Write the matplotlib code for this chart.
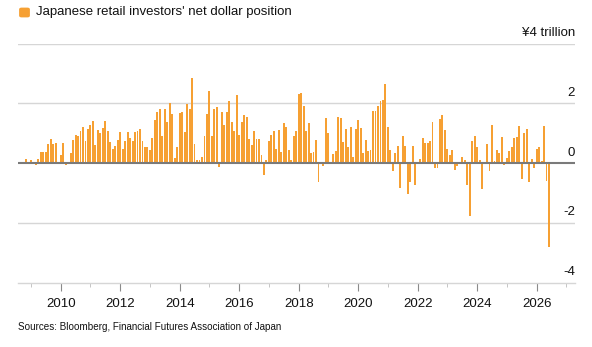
import matplotlib
matplotlib.use("Agg")
import matplotlib.pyplot as plt
import matplotlib.transforms as mtransforms
from matplotlib.patches import FancyBboxPatch
import pandas as pd

# monthly net dollar position, trillion yen (Nov 2008 - Jun 2026)
months = pd.date_range("2008-11-01", periods=212, freq="MS")
values = [
    0.13, 0, 0.1, 0, -0.06, 0.12, 0.38, 0.36, 0.38, 0.63, 0.79, 0.65,
    0.67, 0.05, 0.28, 0.66, -0.07, 0.05, 0.34, 0.76, 0.94, 0.9, 1.08, 1.21,
    0.75, 1.13, 1.26, 1.4, 0.6, 1.11, 1.02, 1.17, 1.4, 1.06, 0.7, 0.47,
    0.58, 0.76, 1.04, 0.46, 0.73, 1.04, 0.84, 0.75, 1.04, 1.08, 1.13, 0.73,
    0.52, 0.52, 0.45, 0.85, 1.43, 1.72, 1.8, 0.9, 1.82, 1.38, 2.0, 1.63,
    0.17, 0.54, 1.66, 1.7, 1.03, 1.98, 1.81, 2.84, 0.63, 0.1, 0.1, 0.2,
    0.9, 1.64, 2.4, 0.9, 1.81, 1.87, -0.15, 1.71, 1.27, 1.71, 2.06, 1.37,
    1.08, 2.27, 0.93, 1.37, 1.61, 1.55, 0.8, 0.61, 1.08, 0.79, 0.81, 0.27,
    -0.4, 0.11, 0.74, 0.93, 1.07, 0.46, 1.09, 0.37, 1.34, 1.22, 0.45, 0.11,
    0.91, 1.07, 2.3, 2.34, 1.91, 1.06, 1.33, 0.34, 0.38, 0.76, -0.64, 0,
    -0.11, 1.52, 1.02, 0.02, 0.31, 0.4, 1.55, 1.5, 0.7, 1.13, 0.52, 1.21,
    0.19, 1.13, 1.44, 1.17, 0.33, 0.76, 0.4, 0.45, 1.74, 1.74, 1.9, 2.08,
    2.11, 2.66, 1.19, 0.42, -0.28, 0.33, 0.57, -0.85, 0.9, 0.57, -1.03, -0.62,
    0.57, -0.73, 0.02, 0.12, 0.84, 0.66, 0.66, 0.72, 1.38, -0.17, -0.17, 1.46,
    1.6, 1.12, 0.46, 0.26, 0.45, -0.22, -0.11, 0, 0.2, 0.11, -0.73, -1.76,
    0.73, 0.9, 0.53, 0.09, -0.88, 0, 0.65, -0.28, 1.26, 0.06, 0.45, 0.34,
    0.88, -0.08, 0.16, 0.39, 0.54, 0.83, 0.88, 1.24, -0.55, 1.01, 1.13, -0.64,
    0.15, -0.17, 0.46, 0.52, 0.06, 1.24, -0.61, -2.8,
]
y_ticks = [-4, -2, 0, 2, 4]
y_labels = ["-4", "-2", "0", "2", "¥4 trillion"]
x_major = list(range(2010, 2027, 2))
x_minor = list(range(2009, 2028, 2))

plt.rcParams["font.family"] = ["Liberation Sans", "DejaVu Sans"]
orange = "#f6a033"

# decimal years for the bar positions
x = [d.year + (d.month - 1) / 12 for d in months]

fig = plt.figure(figsize=(5.92, 3.47), dpi=100)
ax = fig.add_axes([18 / 592, 1 - 282.5 / 347, 557 / 592, 239 / 347])

ax.bar(x, values, width=0.064, color=orange, zorder=2)

ax.set_xlim(2008.565, 2027.29)
ax.set_ylim(-4, 4)

# gridlines and zero line
for v in [-2, 2, 4]:
    ax.axhline(v, color="#d6d6d6", lw=1, zorder=1)
ax.axhline(0, color="#7a7a7a", lw=1.5, zorder=3)

for s in ["top", "left", "right"]:
    ax.spines[s].set_visible(False)
ax.spines["bottom"].set_color("#d6d6d6")
ax.spines["bottom"].set_linewidth(1)

ax.set_yticks([])
trans = mtransforms.blended_transform_factory(ax.transAxes, ax.transData)
for v, lab in zip(y_ticks, y_labels):
    ax.text(1.0, v + 0.15, lab, transform=trans, ha="right", va="bottom",
            fontsize=9.5, color="#111111")

ax.set_xticks(x_major)
ax.set_xticklabels([str(t) for t in x_major], fontsize=9.5, color="#111111")
ax.set_xticks(x_minor, minor=True)
ax.tick_params(axis="x", which="major", length=6, color="#8a8a8a", pad=5)
ax.tick_params(axis="x", which="minor", length=3, color="#bbbbbb")

# title with legend square
sq = FancyBboxPatch((21 / 592, 1 - 16 / 347), 7 / 592, 7 / 347,
                    boxstyle="round,pad=0.002,rounding_size=0.003",
                    transform=fig.transFigure, color=orange, figure=fig)
fig.patches.append(sq)
fig.text(36 / 592, 1 - 12 / 347, "Japanese retail investors' net dollar position",
         fontsize=9.5, va="center", ha="left", color="#111111")

fig.text(18 / 592, 1 - 327 / 347, "Sources: Bloomberg, Financial Futures Association of Japan",
         fontsize=7.1, va="center", ha="left", color="#111111")

fig.savefig("out.png", dpi=100)
